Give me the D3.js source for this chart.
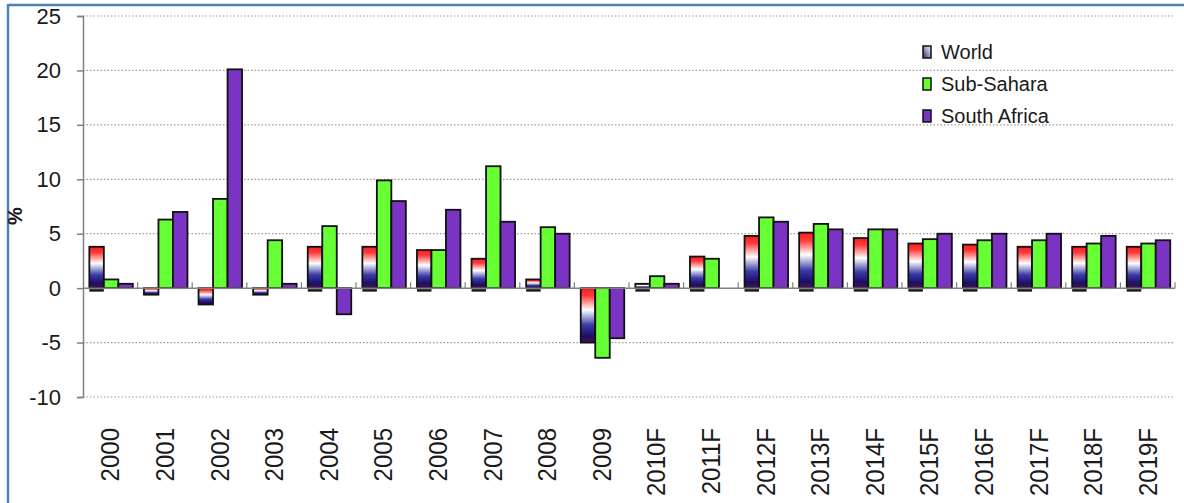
<!DOCTYPE html>
<html>
<head>
<meta charset="utf-8">
<script src="https://cdn.jsdelivr.net/npm/d3@7"></script>
<style>
  html, body { margin: 0; padding: 0; background: #fff; }
  svg { display: block; }
  text { font-family: "Liberation Sans", Arial, sans-serif; fill: #1a1a1a; }
</style>
</head>
<body>
<svg id="chart" width="1184" height="503"></svg>
<script>
// GDP growth, %
const years = ["2000","2001","2002","2003","2004","2005","2006","2007","2008","2009",
               "2010F","2011F","2012F","2013F","2014F","2015F","2016F","2017F","2018F","2019F"];
const world       = [3.8, -0.6, -1.5, -0.6, 3.8, 3.8, 3.5, 2.7, 0.8, -5.0,
                     0.4, 2.9, 4.8, 5.1, 4.6, 4.1, 4.0, 3.8, 3.8, 3.8];
const subSahara   = [0.8, 6.3, 8.2, 4.4, 5.7, 9.9, 3.5, 11.2, 5.6, -6.4,
                     1.1, 2.7, 6.5, 5.9, 5.4, 4.5, 4.4, 4.4, 4.1, 4.1];
const southAfrica = [0.4, 7.0, 20.1, 0.4, -2.4, 8.0, 7.2, 6.1, 5.0, -4.6,
                     0.4, null, 6.1, 5.4, 5.4, 5.0, 5.0, 5.0, 4.8, 4.4];
const seriesNames = ["World", "Sub-Sahara", "South Africa"];
const yTicks = [25, 20, 15, 10, 5, 0, -5, -10];

const svg = d3.select("#chart");
const W = 1184, H = 503;

// frame
svg.append("line").attr("x1", 8).attr("x2", W).attr("y1", 5).attr("y2", 5)
  .attr("stroke", "#4f81bd").attr("stroke-width", 2.5);
svg.append("line").attr("x1", 8).attr("x2", 8).attr("y1", 4).attr("y2", H)
  .attr("stroke", "#4f81bd").attr("stroke-width", 2.5);

// gradient for the World series
const defs = svg.append("defs");
const g1 = defs.append("linearGradient").attr("id", "worldGrad")
  .attr("x1", 0).attr("y1", 0).attr("x2", 0).attr("y2", 1);
[[0, "#ff1a1a"], [0.14, "#ff3a3a"], [0.4, "#ffffff"], [0.68, "#3a3aa8"],
 [0.88, "#1c0f66"], [1, "#4a1250"]].forEach(([o, c]) =>
  g1.append("stop").attr("offset", o).attr("stop-color", c));
const g2 = defs.append("linearGradient").attr("id", "worldKey")
  .attr("x1", 0).attr("y1", 1).attr("x2", 1).attr("y2", 0);
[[0, "#2a2a66"], [0.5, "#9a9ac0"], [1, "#f4f0ff"]].forEach(([o, c]) =>
  g2.append("stop").attr("offset", o).attr("stop-color", c));

const fills = ["url(#worldGrad)", "#66ff33", "#7b33c4"];
const keyFills = ["url(#worldKey)", "#66ff33", "#7b33c4"];

const plotL = 83, plotR = 1175, plotT = 16, plotB = 397;
const x0 = d3.scaleBand().domain(years).range([plotL, plotR]).padding(0);
const groupW = 43.5;
const x1 = d3.scaleBand().domain(seriesNames).range([0, groupW]).padding(0);
const y = d3.scaleLinear().domain([-10, 25]).range([plotB, plotT]);

// gridlines
svg.append("g").selectAll("line").data(yTicks.filter(t => t !== 0)).join("line")
  .attr("x1", plotL).attr("x2", plotR)
  .attr("y1", d => y(d)).attr("y2", d => y(d))
  .attr("stroke", "#9a9a9a").attr("stroke-width", 1.2)
  .attr("stroke-dasharray", "1.5,2");

// y axis
const yAxis = svg.append("g").attr("transform", `translate(${plotL},0)`)
  .call(d3.axisLeft(y).tickValues(yTicks).tickFormat(d => String(d)).tickSize(6).tickPadding(16));
yAxis.select(".domain").attr("stroke", "#808080").attr("stroke-width", 1.5);
yAxis.selectAll(".tick line").attr("stroke", "#808080").attr("stroke-width", 1.5);
yAxis.selectAll(".tick text").attr("font-size", 22)
  .style("font-family", "'Liberation Sans', Arial, sans-serif").attr("fill", "#1a1a1a");

svg.append("text").attr("transform", `translate(22,216) rotate(-90)`)
  .attr("text-anchor", "middle").attr("font-size", 20).attr("font-weight", "bold").text("%");

// bars
const rows = years.map((yr, i) => ({ yr, vals: [world[i], subSahara[i], southAfrica[i]] }));
const groupOffset = (x0.bandwidth() - groupW) / 2 + 0.8;
const groups = svg.append("g").selectAll("g").data(rows).join("g")
  .attr("transform", d => `translate(${x0(d.yr) + groupOffset},0)`);

// dark base line under positive World bars
groups.filter(d => d.vals[0] > 0).append("rect")
  .attr("x", x1("World")).attr("width", x1.bandwidth())
  .attr("y", y(0) + 1).attr("height", 2.5).attr("fill", "#1a1a1a");

groups.selectAll("rect.bar")
  .data(d => d.vals.map((v, k) => ({ v, k })).filter(e => e.v !== null))
  .join("rect").attr("class", "bar")
  .attr("x", e => x1(seriesNames[e.k]))
  .attr("width", x1.bandwidth())
  .attr("y", e => y(Math.max(0, e.v)))
  .attr("height", e => Math.abs(y(e.v) - y(0)))
  .attr("fill", e => fills[e.k])
  .attr("stroke", "#111").attr("stroke-width", 1.8);

// x axis at zero
const xAxis = svg.append("g");
xAxis.append("line").attr("x1", plotL).attr("x2", plotR)
  .attr("y1", y(0)).attr("y2", y(0)).attr("stroke", "#808080").attr("stroke-width", 1.5);
xAxis.selectAll("line.tk").data(years.slice(1).concat(["end"])).join("line").attr("class", "tk")
  .attr("x1", d => d === "end" ? plotR : x0(d)).attr("x2", d => d === "end" ? plotR : x0(d))
  .attr("y1", y(0)).attr("y2", y(0) - 6)
  .attr("stroke", "#808080").attr("stroke-width", 1.2);

// category labels
svg.append("g").selectAll("text").data(years).join("text")
  .attr("transform", d => `translate(${x0(d) + x0.bandwidth() / 2 + 9},428) rotate(-90) scale(1,1.1)`)
  .attr("text-anchor", "end").attr("font-size", 24).text(d => d);

// legend
const legend = svg.append("g").attr("transform", "translate(923,52)");
const li = legend.selectAll("g").data(seriesNames).join("g")
  .attr("transform", (d, i) => `translate(0,${i * 32})`);
li.append("rect").attr("x", 0).attr("y", -6).attr("width", 8).attr("height", 12)
  .attr("fill", (d, i) => keyFills[i]).attr("stroke", "#111").attr("stroke-width", 1.5);
li.append("text").attr("x", 18).attr("y", 7).attr("font-size", 20).text(d => d);
</script>
</body>
</html>
